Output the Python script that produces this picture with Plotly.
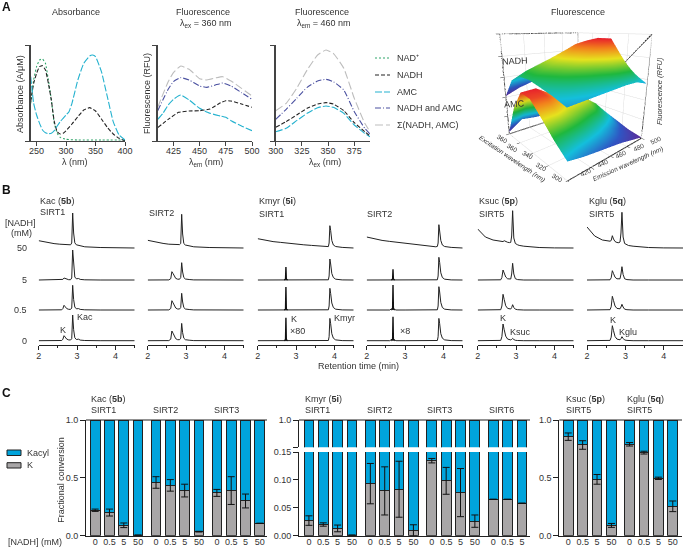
import plotly.graph_objects as go
import numpy as np

W, H = 683, 547
FONT = "Liberation Sans"
INK = "#333333"

# ---------- Panel A spectra (heights in relative units)
ABS_NAD_X = [240,245,250,255,260,265,270,275,280,285,290,300,320,360,400]
ABS_NAD_Y = [113,183,223,243,246,233,183,123,53,23,11,5,3,3,3]
ABS_NADH_X = [240,245,250,255,260,265,270,275,280,285,290,295,300,310,320,330,340,350,360,370,380,390,400]
ABS_NADH_Y = [118,173,203,223,226,213,173,123,58,28,21,23,31,51,73,93,100,90,66,41,21,8,1]
ABS_AMC_X = [240,245,250,255,260,265,270,275,280,285,290,295,300,305,310,320,330,340,345,350,360,370,380,390,400]
ABS_AMC_Y = [193,113,78,53,33,25,22,23,31,45,58,68,78,88,113,183,233,255,258,253,208,133,58,18,3]

EM_X_AMC = [410,415,420,425,430,432,440,450,460,470,475,480,490,500]
EM_AMC = [65,83,108,125,136,138,123,98,83,75,71,61,45,31]
EM_X_NADH = [410,420,430,440,450,460,470,475,480,490,500]
EM_NADH = [40,65,86,90,91,96,115,121,120,111,101]
EM_X_SUM = [410,420,425,432,440,450,457,465,472,480,490,500]
EM_BOTH = [91,155,178,190,183,165,161,168,174,165,145,125]
EM_SUM = [101,178,205,225,215,187,183,189,193,180,158,135]

EX_X = [300,310,320,330,340,348,355,365,375,385,390]
EX_AMC = [28,38,61,83,100,105,101,83,48,23,13]
EX_NADH = [41,58,78,98,111,115,111,91,55,28,15]
EX_BOTH = [65,95,128,161,180,185,178,153,88,38,21]
EX_SUM = [91,113,158,213,258,273,263,218,128,53,28]

SERIES_NAMES = ["NAD\u207a", "NADH", "AMC", "NADH and AMC", "\u03a3(NADH, AMC)"]
SERIES_COLORS = ["#2fa56a", "#222222", "#25b2cf", "#4a50a0", "#bdbdbd"]
SERIES_DASH = ["2px,2px", "4px,2px", "7px,2px", "6px,2px,1px,2px", "8px,3px"]

# ---------- Panel A surfaces
EM_GRID = [420,433,446,460,473,486,500]
EX_GRID = [300,313,326,340,353,366,380]
Z_AMC = [
 [.16,.13,.11,.09,.07,.04,.01],
 [.26,.24,.22,.19,.15,.10,.04],
 [.38,.37,.33,.29,.26,.20,.09],
 [.50,.50,.42,.40,.37,.28,.14],
 [.52,.53,.45,.44,.40,.30,.16],
 [.34,.38,.30,.29,.27,.20,.10],
 [.02,.12,.10,.09,.08,.06,.03],
]
Z_NADH = [
 [.56,.57,.58,.59,.60,.60,.56],
 [.60,.63,.66,.70,.76,.78,.64],
 [.63,.68,.74,.82,.91,.96,.72],
 [.66,.72,.78,.86,.94,.96,.74],
 [.66,.72,.78,.84,.90,.90,.72],
 [.60,.67,.72,.76,.80,.80,.66],
 [.41,.47,.51,.54,.57,.56,.52],
]
RAINBOW = [[0,"#5a2d9c"],[.16,"#2f56c4"],[.32,"#14bfdc"],[.5,"#1fb83e"],[.7,"#e6e21e"],[.86,"#f2811c"],[1,"#e81f2c"]]

# ---------- Panel B chromatograms (peak height above baseline)
T_K = [2.0,2.2,2.4,2.55,2.6,2.63,2.66,2.69,2.73,2.78,2.83,2.86,2.885,2.91,2.94,2.98,3.04,3.08,3.2,3.6,4.0,4.5]
T_M = [2.0,2.2,2.4,2.6,2.68,2.76,3.0,3.2,3.4,3.6,3.8,3.84,3.86,3.88,3.9,3.93,3.97,4.03,4.2,4.5]
T_SPIKE = [2.69,2.725,2.735,2.745,2.78]

KAC_S1_0 = [0,0,0,0,.2,1.5,5,3.6,1.6,.8,.7,2,25.7,11,3,1.2,1.5,.6,.2,0,0,0]
KAC_S1_05 = [0,0,0,0,.2,1.4,4.7,3.3,1.4,.7,.6,2,24.7,10.5,3,1.2,1.4,.6,.2,0,0,0]
KAC_S1_5 = [0,0,0,0,.1,.6,2,1.5,.7,.3,.3,2,30,13,3,1.2,1.5,.6,.2,0,0,0]
KAC_S1_50 = [7.3,5.6,4.4,3.8,3.7,3.6,3.5,3.4,3.3,3.2,3.2,5,35,15,5.2,3.2,2.8,1.8,1.2,.5,.2,0]
KAC_S2_0 = [0,0,0,.1,1.5,9.7,7.5,4.5,2,1,1,2.5,17.3,8,2.5,1,1,.5,.1,0,0,0]
KAC_S2_05 = [0,0,0,.1,1.5,9.3,7.2,4.3,2,1,1,2.5,16.7,8,2.5,1,1,.5,.1,0,0,0]
KAC_S2_5 = [0,0,0,.1,1.3,8.3,6.5,3.8,1.6,.8,.8,2.5,17.3,8,2.5,1,1,.5,.1,0,0,0]
KAC_S2_50 = [7.7,6,4.6,3.8,3.6,3.5,3.4,3.3,3.4,3.6,3.4,4.5,33.7,14,4.5,3,2.6,1.8,1.2,.5,.1,0]
KSUC_0 = [0,0,0,0,.3,4,16.7,11,4.5,1.6,.8,.8,1.3,2.3,1.2,.4,.2,.1,0,0,0,0]
KSUC_05 = [0,0,0,0,.3,4,15.7,10.5,4.2,1.6,.9,1,2.5,5.3,2.5,.8,.3,.1,0,0,0,0]
KSUC_5 = [0,0,0,0,.2,2.5,10,7,3,1.2,.8,1,6,16.7,6,1.3,.4,.2,0,0,0,0]
KSUC_50 = [19,11,8,6.8,6.5,6.5,6.4,7.3,6.3,5.7,5.4,5.6,12,37.3,10,4.5,3.2,2.6,1.8,.5,.1,0]
KGLU_0 = [0,0,0,0,.3,3.5,15,10,4.2,1.6,.9,.9,2,4,2.3,.7,.3,.1,0,0,0,0]
KGLU_05 = [0,0,0,0,.3,3.2,13.7,9.5,4,1.6,1,1.2,3,5.7,3,.8,.3,.1,0,0,0,0]
KGLU_5 = [0,0,0,0,.2,2.2,9.3,6.5,2.8,1.2,.8,1.2,6,13.3,5.5,1.2,.4,.2,0,0,0,0]
KGLU_50 = [21,12,8,6.8,6.8,7.5,12.3,9,6.5,5.5,5.3,6,15,35.7,11,4.5,3.2,2.5,1.8,.5,.1,0]
KMYR_S1_0 = [0,0,0,0,0,0,0,0,0,0,0,.2,4,22.3,17,7,2.5,.8,.1,0]
KMYR_S1_05 = [0,0,0,0,0,0,0,0,0,0,0,.2,4,21.7,16.5,7,2.5,.8,.1,0]
KMYR_S1_5 = [0,0,0,0,0,0,0,0,0,0,0,.2,4,21,16,6.5,2.5,.8,.1,0]
KMYR_S1_50 = [9.3,7.6,6.4,5.6,5.2,4.8,4,3.2,2.6,1.8,1.2,1.4,5,22.3,17.5,7.5,3,1.5,.6,0]
KMYR_S2_0 = [0,0,0,0,2,0,0,0,0,0,0,.2,4,22.3,17,7,2.5,.8,.1,0]
KMYR_S2_05 = [0,0,0,0,2,0,0,0,0,0,0,.2,4,23.3,18,7.5,2.5,.8,.1,0]
KMYR_S2_5 = [0,0,0,0,0,0,0,0,0,0,0,.2,4,22.7,17.5,7.2,2.5,.8,.1,0]
KMYR_S2_50 = [11,9,7.6,6.6,6.2,5.8,4.6,3.6,2.8,2,1.2,1.6,5,23.3,18,7.5,3,1.5,.6,0]
SPIKE_S1_0 = [0,.8,23,.8,0]
SPIKE_S1_05 = [0,.8,23,.8,0]
SPIKE_S1_5 = [0,.8,13,.8,0]
SPIKE_S2_0 = [0,.8,24,.8,0]
SPIKE_S2_05 = [0,.8,25,.8,0]
SPIKE_S2_5 = [0,.8,10.7,.8,0]
ROW_OFFSET = [0, 30.7, 60.7, 92.7]   # rows 0, 0.5, 5, 50
ROW_LABELS = ["0", "0.5", "5", "50"]

# ---------- Panel C
NADH_LEVELS = ["0", "0.5", "5", "50"]
KAC_K = [[.22,.20,.09,.005],[.46,.435,.39,.035],[.37,.39,.30,.107]]
KAC_ERR = [[.01,.03,.02,0],[.05,.05,.055,.003],[.03,.12,.06,0]]
KMYR_K = [[.027,.020,.013,.001],[.093,.080,.083,.0095],[.134,.098,.077,.026],[.065,.065,.058]]
KMYR_ERR = [[.0085,.003,.006,0],[.036,.043,.05,.01],[.004,.024,.043,.011],[0,0,0]]
KSG_K = [[.856,.784,.487,.089],[.79,.718,.496,.254]]
KSG_ERR = [[.032,.037,.042,.017],[.015,.012,.01,.046]]
BLUE = "#00a4dc"
GREY = "#a8a6a7"

fig = go.Figure()
axes = {}
ann = []
shapes = []
n_ax = 0

def dx(l, r): return [max(l / W, 0), min(r / W, 1)]
def dy(t, b): return [max(1 - b / H, 0), min(1 - t / H, 1)]

def new_axes(xd, yd, xa, ya):
    global n_ax
    n_ax += 1
    s = "" if n_ax == 1 else str(n_ax)
    axes["xaxis" + s] = dict(domain=dx(*xd), anchor="y" + s, automargin=False, **xa)
    axes["yaxis" + s] = dict(domain=dy(*yd), anchor="x" + s, automargin=False, **ya)
    return "x" + s, "y" + s

def txt(x, y, t, anchor="left", size=9, angle=0, color=INK, **kw):
    ann.append(dict(x=x / W, y=1 - y / H, xref="paper", yref="paper", text=t, showarrow=False,
                    xanchor=anchor, yanchor="middle", textangle=angle,
                    font=dict(family=FONT, size=size, color=color), borderpad=0, **kw))

# -------- A spectra
def spec_x(rng, vals, line_col="#444444"):
    return dict(range=rng, tickvals=vals, ticks="outside", ticklen=4, tickwidth=1, tickcolor=line_col,
                showline=True, linecolor=line_col, linewidth=1, showgrid=False, zeroline=False,
                ticklabelstandoff=-3, tickfont=dict(family=FONT, size=9, color=INK))
def spec_y():
    return dict(range=[0, 288], tickvals=[0, 288], showticklabels=False, ticks="outside", ticklen=4, tickwidth=1,
                tickcolor="#444444", showline=True, linecolor="#444444", linewidth=1.6, showgrid=False, zeroline=False)

def line(xa, ya, x, y, i, w=1.1):
    fig.add_trace(go.Scatter(x=x, y=y, xaxis=xa, yaxis=ya, mode="lines", name=SERIES_NAMES[i], showlegend=False,
                             line=dict(color=SERIES_COLORS[i], dash=SERIES_DASH[i], width=w, shape="spline", smoothing=.4)))

xa, ya = new_axes((30.7, 125), (45, 141), spec_x([240, 400], [250, 300, 350, 400]), spec_y())
line(xa, ya, ABS_NAD_X, ABS_NAD_Y, 0)
line(xa, ya, ABS_NADH_X, ABS_NADH_Y, 1)
line(xa, ya, ABS_AMC_X, ABS_AMC_Y, 2)
xa, ya = new_axes((157.7, 252), (45, 141), spec_x([410, 500], [425, 450, 475, 500]), spec_y())
line(xa, ya, EM_X_AMC, EM_AMC, 2)
line(xa, ya, EM_X_NADH, EM_NADH, 1)
line(xa, ya, EM_X_SUM, EM_BOTH, 3)
line(xa, ya, EM_X_SUM, EM_SUM, 4)
xa, ya = new_axes((275.7, 370), (45, 141), spec_x([300, 390], [300, 325, 350, 375]), spec_y())
line(xa, ya, EX_X, EX_AMC, 2)
line(xa, ya, EX_X, EX_NADH, 1)
line(xa, ya, EX_X, EX_BOTH, 3)
line(xa, ya, EX_X, EX_SUM, 4)

txt(76, 12, "Absorbance", "center")
txt(203, 12, "Fluorescence", "center")
txt(205, 23, "\u03bb<sub>ex</sub> = 360 nm", "center")
txt(322, 12, "Fluorescence", "center")
txt(324, 23, "\u03bb<sub>em</sub> = 460 nm", "center")
txt(20, 94, "Absorbance (A/\u03bcM)", "center", angle=-90)
txt(147, 94, "Fluorescence (RFU)", "center", angle=-90)
txt(75, 162, "\u03bb (nm)", "center")
txt(205.7, 162, "\u03bb<sub>em</sub> (nm)", "center")
txt(325, 162, "\u03bb<sub>ex</sub> (nm)", "center")
for i, yy in enumerate([58, 75, 92, 108, 125]):
    shapes.append(dict(type="line", xref="paper", yref="paper", x0=375 / W, x1=390 / W, y0=1 - yy / H, y1=1 - yy / H,
                       line=dict(color=SERIES_COLORS[i], dash=SERIES_DASH[i], width=1.1)))
    txt(396, yy, SERIES_NAMES[i])

# -------- A surfaces
for z, nm in [(Z_AMC, "AMC"), (Z_NADH, "NADH")]:
    zz = np.array(z)
    fig.add_trace(go.Surface(x=EM_GRID, y=EX_GRID, z=z, colorscale=RAINBOW, showscale=False, name=nm,
                             cmin=float(zz.min()), cmax=float(zz.max()),
                             lighting=dict(ambient=.95, diffuse=.15, specular=0, roughness=1)))
def sc_ax(rng, vals):
    return dict(range=rng, tickvals=vals, showticklabels=False, title=dict(text=""), showbackground=True,
                backgroundcolor="white", gridcolor="#dcdcdc", gridwidth=1, showline=False,
                ticks="outside", ticklen=3, tickcolor="#333333", zeroline=False, showspikes=False)
EM_LO, EM_HI, EX_LO, EX_HI, Z_LO, Z_HI = 420, 500, 300, 380, 0, 1
# frame of the back walls, tied to the axis limits
fig.add_trace(go.Scatter3d(
    x=[EM_LO, EM_LO, EM_HI, EM_HI, EM_HI, EM_HI, None, EM_HI, EM_HI, None, EM_LO, EM_HI, EM_HI, None, EM_LO, EM_LO, EM_HI],
    y=[EX_HI, EX_HI, EX_HI, EX_HI, EX_LO, EX_LO, None, EX_HI, EX_HI, None, EX_HI, EX_HI, EX_LO, None, EX_HI, EX_LO, EX_LO],
    z=[Z_LO, Z_HI, Z_HI, Z_LO, Z_HI, Z_LO, None, Z_LO, Z_HI, None, Z_LO, Z_LO, Z_LO, None, Z_LO, Z_LO, Z_LO],
    mode="lines", line=dict(color="#111111", width=2), hoverinfo="skip", showlegend=False))
axes["scene"] = dict(domain=dict(x=dx(475, 673), y=dy(5, 182)),
                     xaxis=sc_ax([EM_LO, EM_HI], [420, 440, 460, 480, 500]),
                     yaxis=sc_ax([EX_LO, EX_HI], [300, 320, 340, 360, 380]),
                     zaxis=sc_ax([Z_LO, Z_HI], [0, .2, .4, .6, .8, 1]),
                     aspectmode="manual", aspectratio=dict(x=1, y=1, z=1.05),
                     camera=dict(eye=dict(x=-1.35, y=-1.55, z=.57), center=dict(x=0, y=0, z=-.05)))
txt(578, 12, "Fluorescence", "center")
txt(515, 61, "NADH", "center", angle=-3)
txt(514, 104, "AMC", "center", angle=-3)
txt(659, 91, "<i>Fluorescence (RFU)</i>", "center", size=7.5, angle=-90)
txt(512, 159, "<i>Excitation wavelength (nm)</i>", "center", size=6.5, angle=34)
txt(628, 164, "<i>Emission wavelength (nm)</i>", "center", size=6.5, angle=-24)
for lab, x0, y0 in [("360", 502, 138), ("360", 512, 147), ("340", 527, 155), ("320", 541, 166), ("300", 557, 177)]:
    txt(x0, y0, lab, "center", size=6.5, angle=30)
for lab, x0, y0 in [("420", 585, 172), ("440", 602, 163), ("460", 620, 154), ("480", 638, 147), ("500", 655, 140)]:
    txt(x0, y0, lab, "center", size=6.5, angle=-25)

# -------- B
PANELS_B = [
    (38.7, T_K, [KAC_S1_0, KAC_S1_05, KAC_S1_5, KAC_S1_50], None, None),
    (147.7, T_K, [KAC_S2_0, KAC_S2_05, KAC_S2_5, KAC_S2_50], None, None),
    (257.7, T_M, [KMYR_S1_0, KMYR_S1_05, KMYR_S1_5, KMYR_S1_50], [SPIKE_S1_0, SPIKE_S1_05, SPIKE_S1_5], 0.0),
    (366.7, T_M, [KMYR_S2_0, KMYR_S2_05, KMYR_S2_5, KMYR_S2_50], [SPIKE_S2_0, SPIKE_S2_05, SPIKE_S2_5], -0.05),
    (477.7, T_K, [KSUC_0, KSUC_05, KSUC_5, KSUC_50], None, None),
    (587, T_K, [KGLU_0, KGLU_05, KGLU_5, KGLU_50], None, None),
]
for left, t, rows, spikes, shift in PANELS_B:
    xa, ya = new_axes((left, left + 96), (205, 345),
        dict(range=[2, 4.5], tickvals=[2, 3, 4], ticks="outside", ticklen=4, tickwidth=1, tickcolor="#222",
             showline=True, linecolor="#222", linewidth=1, showgrid=False, zeroline=False, ticklabelstandoff=-2,
             tickfont=dict(family=FONT, size=9, color=INK),
             minor=dict(tickvals=[2.5, 3.5, 4.5], ticks="outside", ticklen=2, tickcolor="#222", showgrid=False)),
        dict(range=[-4.3, 135.7], visible=False, showgrid=False, zeroline=False))
    for r, vals in enumerate(rows):
        fig.add_trace(go.Scatter(x=t, y=np.array(vals) + ROW_OFFSET[r], xaxis=xa, yaxis=ya, mode="lines", showlegend=False,
                                 line=dict(color="#222", width=1), cliponaxis=False))
    if spikes:
        for r, vals in enumerate(spikes):
            fig.add_trace(go.Scatter(x=np.array(T_SPIKE) + shift, y=np.array(vals) + ROW_OFFSET[r], xaxis=xa, yaxis=ya,
                                     mode="lines", showlegend=False, line=dict(color="#111", width=1.4)))
txt(20, 223, "[NADH]", "center")
txt(21, 233, "(mM)", "center")
for lab, yy in zip(ROW_LABELS, [341, 310, 280, 248]):
    txt(28, yy, lab, "right")
txt(39, 201, "Kac (<b>5b</b>)")
txt(39, 212, "SIRT1")
txt(147.7, 213, "SIRT2")
txt(257.7, 201, "Kmyr (<b>5i</b>)")
txt(257.7, 214, "SIRT1")
txt(365.7, 214, "SIRT2")
txt(477.7, 201, "Ksuc (<b>5p</b>)")
txt(477.7, 214, "SIRT5")
txt(587.7, 201, "Kglu (<b>5q</b>)")
txt(587.7, 214, "SIRT5")
txt(63, 330, "K", "center")
txt(76, 317, "Kac")
txt(290, 319, "K")
txt(289, 331, "\u00d780")
txt(333, 318, "Kmyr")
txt(399, 331, "\u00d78")
txt(503, 318, "K", "center")
txt(509, 332, "Ksuc")
txt(613, 320, "K", "center")
txt(618, 332, "Kglu")
txt(358, 366, "Retention time (min)", "center")

# -------- C
def positions(groups, pitch):
    pos, labels = [], []
    for g, vals in enumerate(groups):
        for i in range(len(vals)):
            pos.append(g * pitch + i)
            labels.append(NADH_LEVELS[i])
    return pos, labels

def bar_pair(xa, ya, pos, k, err=None):
    k = np.array(k)
    fig.add_trace(go.Bar(x=pos, y=k, xaxis=xa, yaxis=ya, width=.68, marker=dict(color=GREY, line=dict(color="#222", width=1)),
                         showlegend=False, name="K"))
    fig.add_trace(go.Bar(x=pos, y=1 - k, xaxis=xa, yaxis=ya, width=.68, marker=dict(color=BLUE, line=dict(color="#222", width=1)),
                         showlegend=False, name="Kacyl"))
    if err is not None:  # whiskers on top of both stacked segments
        fig.add_trace(go.Scatter(x=pos, y=k, xaxis=xa, yaxis=ya, mode="markers", marker=dict(opacity=0, size=1),
                                 showlegend=False, hoverinfo="skip",
                                 error_y=dict(type="data", array=err, color="#111", thickness=1, width=3.5, visible=True)))

def flat(a): return [v for g in a for v in g]

def cx(rng, pos, labels):
    return dict(range=rng, tickvals=pos, ticktext=labels, ticks="", showline=True, linecolor="#222", linewidth=1,
                showgrid=False, zeroline=False, ticklabelstandoff=-3, tickfont=dict(family=FONT, size=9, color=INK))
def cy(rng, vals, labels):
    return dict(range=rng, tickvals=vals, ticktext=labels, ticks="outside", ticklen=5, tickwidth=1, tickcolor="#222", showline=True,
                linecolor="#222", linewidth=1, showgrid=False, zeroline=False, tickfont=dict(family=FONT, size=9, color=INK))

def top_line(xl, xr):
    shapes.append(dict(type="line", xref="paper", yref="paper", x0=xl / W, x1=xr / W, y0=1 - 420 / H, y1=1 - 420 / H,
                       line=dict(color="#222", width=1)))

pos, labs = positions(KAC_K, 4.25)
xa, ya = new_axes((86, 267), (420, 535.7), cx([-.64, 12.0], pos, labs), cy([0, 1], [0, .5, 1], ["0.0", "0.5", "1.0"]))
bar_pair(xa, ya, pos, flat(KAC_K), flat(KAC_ERR))
top_line(86, 267)

pos, labs = positions(KMYR_K, 4.28)
xa, ya = new_axes((299, 530), (452, 535.7), cx([-.69, 15.4], pos, labs),
                  cy([0, .1495], [0, .05, .1, .1495], ["0.00", "0.05", "0.10", "0.15"]))
bar_pair(xa, ya, pos, flat(KMYR_K), flat(KMYR_ERR))
xa, ya = new_axes((299, 530), (420, 447.3),
                  dict(range=[-.69, 15.4], showticklabels=False, ticks="", showline=False, showgrid=False, zeroline=False),
                  dict(cy([.9, 1], [1], ["1.0"]), minor=dict(tickvals=[.9], ticks="outside", ticklen=5, tickcolor="#222", showgrid=False)))
bar_pair(xa, ya, pos, flat(KMYR_K))
top_line(299, 530)

pos, labs = positions(KSG_K, 4.26)
xa, ya = new_axes((559.3, 682), (420, 535.7), cx([-.62, 7.9], pos, labs), cy([0, 1], [0, .5, 1], ["0.0", "0.5", "1.0"]))
bar_pair(xa, ya, pos, flat(KSG_K), flat(KSG_ERR))
top_line(559.3, 682)

txt(60.7, 480, "Fractional conversion", "center", angle=-90)
txt(7, 541.5, "[NADH] (mM)")
txt(90, 399, "Kac (<b>5b</b>)")
txt(90, 410, "SIRT1")
txt(151.7, 410, "SIRT2")
txt(212.7, 410, "SIRT3")
txt(304, 399, "Kmyr (<b>5i</b>)")
txt(304, 410, "SIRT1")
txt(365.7, 410, "SIRT2")
txt(426.3, 410, "SIRT3")
txt(487.7, 410, "SIRT6")
txt(565, 399, "Ksuc (<b>5p</b>)")
txt(565, 410, "SIRT5")
txt(625.7, 399, "Kglu (<b>5q</b>)")
txt(625.7, 410, "SIRT5")
for col, (t, b), nm in [(BLUE, (450, 455.5), "Kacyl"), (GREY, (462.7, 468), "K")]:
    shapes.append(dict(type="rect", xref="paper", yref="paper", x0=7 / W, x1=21 / W, y0=1 - b / H, y1=1 - t / H,
                       fillcolor=col, line=dict(color="#222", width=1)))
    txt(26, (t + b) / 2, nm)

for lab, yy in [("A", 7), ("B", 190), ("C", 393)]:
    txt(1, yy, "<b>%s</b>" % lab, size=12, color="#111")

fig.update_layout(width=W, height=H, margin=dict(l=0, r=0, t=0, b=0, autoexpand=False), autosize=False, paper_bgcolor="white",
                  plot_bgcolor="rgba(0,0,0,0)", barmode="stack", showlegend=False, annotations=ann, shapes=shapes,
                  font=dict(family=FONT, size=9, color=INK), **axes)
fig.write_html("out.html", config=dict(displayModeBar=False), post_script="document.body.style.margin='0';")
